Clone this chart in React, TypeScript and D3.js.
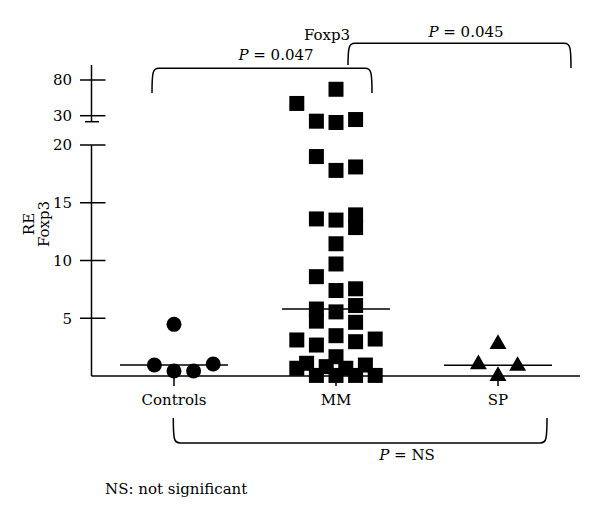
import React from "react";
import * as d3 from "d3";

const categories = ["Controls", "MM", "SP"];
const controlsValues = [4.47, 0.95, 0.43, 0.43, 1.04];
const controlsJitter = [0, -2, 0, 2, 4];
const mmValues = [
  62, 42, 25.8, 24.9, 27.0,
  19.0, 17.8, 18.1, 13.6, 13.5, 13.95, 12.85, 11.45, 9.7, 8.6, 7.4, 7.55,
  5.8, 4.75, 5.55, 6.1, 4.65, 3.12, 2.68, 3.49, 2.97, 3.2,
  1.1, 0.67, 1.67, 0.81, 0.05, 0.05, 0.67, 0.05, 0.95, 0.05,
];
const mmJitter = [
  0, -4, -2, 0, 2,
  -2, 0, 2, -2, 0, 2, 2, 0, 0, -2, 0, 2,
  -2, -2, 0, 2, 2, -4, -2, 0, 2, 4,
  -3, -4, 0, -1, -2, 0, 1, 2, 3, 4,
];
const spValues = [2.77, 1.01, 0.87, 0.0];
const spJitter = [0, -2, 2, 0];
const lowerTicks = [5, 10, 15, 20];
const upperTicks = [30, 80];

const FONT = "'DejaVu Serif', serif";
const FS = 15;

export default function App() {
  const W = 600, H = 517;
  const axisX = 91.5;
  const baseY = 376;
  const x = d3.scalePoint<string>().domain(categories).range([174, 498]);
  const yLower = d3.scaleLinear().domain([0, 20]).range([baseY, 145]);
  const yUpper = d3.scaleLog().domain([30, 80]).range([115.7, 80]);
  const y = (v: number) => (v > 20 ? yUpper(v) : yLower(v));
  const step = 9.8;

  const groups = [
    { cat: "Controls", values: controlsValues, jitter: controlsJitter, shape: d3.symbolCircle, size: Math.PI * 7.5 * 7.5 },
    { cat: "MM", values: mmValues, jitter: mmJitter, shape: d3.symbolSquare, size: 15 * 15 },
    { cat: "SP", values: spValues, jitter: spJitter, shape: d3.symbolTriangle, size: 125 },
  ];

  const bracket = (x1: number, x2: number, yTop: number, yEnd1: number, yEnd2: number, down = true) => {
    const r = 5;
    const s = down ? 1 : -1;
    return `M${x1},${yEnd1} Q${x1 - 2 * s * 0},${yTop + s * r * 2} ${x1 + 1},${yTop + s * r} Q${x1 + 2},${yTop} ${x1 + r + 2},${yTop} L${x2 - r - 2},${yTop} Q${x2 - 2},${yTop} ${x2 - 1},${yTop + s * r} Q${x2},${yTop + s * r * 2} ${x2},${yEnd2}`;
  };

  const xC = x("Controls")!, xM = x("MM")!, xS = x("SP")!;

  return (
    <svg width={W} height={H} style={{ position: "absolute", left: 0, top: 0, background: "#fff" }} fontFamily={FONT} fontSize={FS}>
      {/* upper axis segment */}
      <line x1={axisX} x2={axisX} y1={65} y2={121.7} stroke="#000" strokeWidth={1.5} />
      <line x1={axisX - 6.5} x2={axisX + 7.5} y1={121.7} y2={121.7} stroke="#000" strokeWidth={1.5} />
      {upperTicks.map((t) => (
        <g key={"u" + t}>
          <line x1={axisX - 11.5} x2={axisX + 14} y1={yUpper(t)} y2={yUpper(t)} stroke="#000" strokeWidth={1.5} />
          <text x={72} y={yUpper(t)} dy="0.36em" textAnchor="end">{t}</text>
        </g>
      ))}
      {/* lower axis */}
      <line x1={axisX} x2={axisX} y1={yLower(20)} y2={baseY} stroke="#000" strokeWidth={1.5} />
      {lowerTicks.map((t) => (
        <g key={"l" + t}>
          <line x1={axisX - 11.5} x2={axisX + 14} y1={yLower(t)} y2={yLower(t)} stroke="#000" strokeWidth={1.5} />
          <text x={72} y={yLower(t)} dy="0.36em" textAnchor="end">{t}</text>
        </g>
      ))}
      {/* x axis */}
      <line x1={axisX} x2={580} y1={baseY} y2={baseY} stroke="#000" strokeWidth={1.5} />
      {categories.map((c) => (
        <g key={c}>
          <line x1={x(c)!} x2={x(c)!} y1={baseY} y2={386} stroke="#000" strokeWidth={1.5} />
          <text x={x(c)!} y={405} textAnchor="middle">{c}</text>
        </g>
      ))}
      {/* y label */}
      <text transform="translate(34,224) rotate(-90)" textAnchor="middle">RE</text>
      <text transform="translate(49,224) rotate(-90)" textAnchor="middle">Foxp3</text>

      {/* points */}
      {groups.map((g) =>
        g.values.map((v, i) => (
          <path
            key={g.cat + i}
            d={d3.symbol(g.shape, g.size)()!}
            transform={`translate(${x(g.cat)! + g.jitter[i] * step},${y(v)})`}
            fill="#000"
          />
        ))
      )}
      {/* medians */}
      {groups.map((g) => {
        const m = d3.median(g.values)!;
        return <line key={"m" + g.cat} x1={x(g.cat)! - 54} x2={x(g.cat)! + 54} y1={y(m)} y2={y(m)} stroke="#000" strokeWidth={1.5} />;
      })}

      {/* brackets */}
      <path d={bracket(xC - 22, xM + 36, 68.3, 93, 93)} fill="none" stroke="#000" strokeWidth={1.5} />
      <path d={bracket(xM + 12, xS + 73, 43.3, 65, 68)} fill="none" stroke="#000" strokeWidth={1.5} />
      <path d={bracket(xC - 0.7, xS + 49, 443, 418, 418, false)} fill="none" stroke="#000" strokeWidth={1.5} />

      <text x={327} y={40} textAnchor="middle">Foxp3</text>
      <text x={276} y={60} textAnchor="middle"><tspan fontStyle="italic">P</tspan> = 0.047</text>
      <text x={466} y={37} textAnchor="middle"><tspan fontStyle="italic">P</tspan> = 0.045</text>
      <text x={407} y={460} textAnchor="middle"><tspan fontStyle="italic">P</tspan> = NS</text>
      <text x={105} y={494}>NS: not significant</text>
    </svg>
  );
}
